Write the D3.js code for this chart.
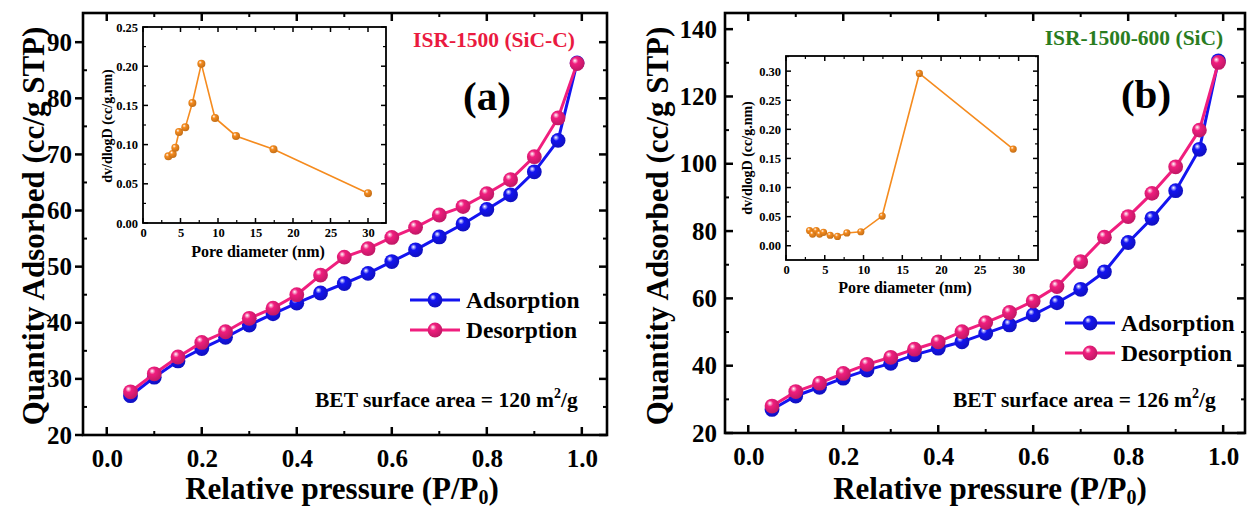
<!DOCTYPE html>
<html><head><meta charset="utf-8">
<script src="https://cdn.jsdelivr.net/npm/d3@7"></script>
<style>
body{margin:0;background:#fff;}
svg{display:block;}
svg text{font-family:"Liberation Serif","Times New Roman",Tinos,"DejaVu Serif",serif;font-weight:bold;}
</style></head>
<body>
<svg id="chart" width="1247" height="509"></svg>
<script>
// ---------- data ----------
const pressure = [0.05,0.10,0.15,0.20,0.25,0.30,0.35,0.40,0.45,0.50,0.55,0.60,0.65,0.70,0.75,0.80,0.85,0.90,0.95,0.99];
const adsorptionA = [27.0,30.3,33.2,35.4,37.4,39.6,41.6,43.5,45.3,47.0,48.8,50.9,53.0,55.3,57.6,60.2,62.8,66.9,72.5,86.3];
const desorptionA = [27.7,30.9,33.9,36.5,38.4,40.8,42.6,45.0,48.5,51.7,53.2,55.2,57.0,59.2,60.7,63.0,65.5,69.6,76.5,86.2];
const adsorptionB = [27.0,31.0,33.6,36.3,38.7,40.7,43.2,45.2,47.1,49.6,52.1,55.1,58.7,62.7,67.9,76.6,83.8,92.0,104.3,130.6];
const desorptionB = [28.0,32.3,34.8,37.7,40.4,42.5,44.9,47.1,50.1,52.8,55.8,59.2,63.5,70.9,78.2,84.3,91.2,99.1,110.0,130.1];

const poreDiamA = [3.38,3.96,4.31,4.80,5.64,6.58,7.78,9.60,12.4,17.4,30.0];
const dvdlogDA  = [0.085,0.088,0.096,0.116,0.122,0.153,0.203,0.134,0.111,0.094,0.038];
const poreDiamB = [3.04,3.43,3.90,4.33,4.84,5.70,6.64,7.85,9.65,12.4,17.2,29.3];
const dvdlogDB  = [0.026,0.020,0.026,0.020,0.023,0.018,0.016,0.022,0.024,0.051,0.296,0.166];

const xTicks = [0.0,0.2,0.4,0.6,0.8,1.0];
const yTicksA = [20,30,40,50,60,70,80,90];
const yTicksB = [20,40,60,80,100,120,140];
const insetXTicks = [0,5,10,15,20,25,30];
const insetYTicksA = [0.00,0.05,0.10,0.15,0.20,0.25];
const insetYTicksB = [0.00,0.05,0.10,0.15,0.20,0.25,0.30];
const seriesNames = ["Adsorption","Desorption"];

const BLUE = "#1414f0", PINK = "#f01e7e", ORANGE = "#f58b1e";
const FONT = '"Liberation Serif","Times New Roman",Tinos,"DejaVu Serif",serif';

const svg = d3.select("#chart");
const defs = svg.append("defs");
function grad(id, col){
  const g = defs.append("radialGradient").attr("id", id)
    .attr("cx","40%").attr("cy","38%").attr("r","60%").attr("fx","35%").attr("fy","30%");
  g.append("stop").attr("offset","0%").attr("stop-color","#ffffff");
  g.append("stop").attr("offset","35%").attr("stop-color",col);
  g.append("stop").attr("offset","100%").attr("stop-color",d3.color(col).darker(0.6));
}
grad("gBlue", BLUE); grad("gPink", PINK); grad("gOrange", ORANGE);

function ticksLayer(g, scale, vals, orient, len, from, w){
  vals.forEach(v=>{
    const p = scale(v);
    if(orient==='bottom') g.append("line").attr("x1",p).attr("x2",p).attr("y1",from).attr("y2",from-len);
    if(orient==='top') g.append("line").attr("x1",p).attr("x2",p).attr("y1",from).attr("y2",from+len);
    if(orient==='left') g.append("line").attr("y1",p).attr("y2",p).attr("x1",from).attr("x2",from+len);
    if(orient==='right') g.append("line").attr("y1",p).attr("y2",p).attr("x1",from).attr("x2",from-len);
  });
  g.attr("stroke","#000").attr("stroke-width",w);
}
function styleAxisText(sel, size){
  sel.attr("font-family",FONT);
  sel.selectAll("text").attr("font-size",size).attr("font-family",FONT).attr("font-weight","bold").attr("fill","#000");
}

function drawPanel(cfg){
  const {L,R,T,B,xDom,yDom,yTicks,yMinor,ads,des,leftOut} = cfg;
  const x = d3.scaleLinear().domain(xDom).range([L,R]);
  const y = d3.scaleLinear().domain(yDom).range([B,T]);
  const g = svg.append("g").attr("font-family",FONT).attr("font-weight","bold");
  const xMinor = d3.range(0,1.01,0.1).map(v=>+v.toFixed(2)).filter(v=>!xTicks.includes(v));
  ticksLayer(g.append("g"), x, xTicks, 'bottom', 8, B, 2.5);
  ticksLayer(g.append("g"), x, xMinor, 'bottom', 4, B, 2);
  ticksLayer(g.append("g"), x, xTicks, 'top', 8, T, 2.5);
  ticksLayer(g.append("g"), x, xMinor, 'top', 4, T, 2);
  ticksLayer(g.append("g"), y, yTicks, 'left', leftOut ? -8 : 8, L, 2.5);
  ticksLayer(g.append("g"), y, yMinor, 'left', 4, L, 2);
  ticksLayer(g.append("g"), y, yTicks, 'right', 8, R, 2.5);
  ticksLayer(g.append("g"), y, yMinor, 'right', 4, R, 2);
  const xa = g.append("g").attr("transform",`translate(0,${B})`)
    .call(d3.axisBottom(x).tickValues(xTicks).tickFormat(d3.format(".1f")).tickSize(0).tickPadding(14));
  xa.select(".domain").remove();
  styleAxisText(xa, 25);
  const ya = g.append("g").attr("transform",`translate(${L},0)`)
    .call(d3.axisLeft(y).tickValues(yTicks).tickFormat(d3.format("d")).tickSize(0).tickPadding(cfg.yPad));
  ya.select(".domain").remove();
  styleAxisText(ya, 25);
  g.append("rect").attr("x",L).attr("y",T).attr("width",R-L).attr("height",B-T)
    .attr("fill","none").attr("stroke","#000").attr("stroke-width",2.6);
  g.append("text").attr("transform",`translate(${cfg.yTitleX},226) rotate(-90)`)
    .attr("text-anchor","middle").attr("font-size",31).text("Quantity Adsorbed (cc/g STP)");
  const xt = g.append("text").attr("x",cfg.xTitleX).attr("y",499).attr("text-anchor","middle").attr("font-size",31);
  xt.append("tspan").text("Relative pressure (P/P");
  xt.append("tspan").attr("font-size",20).attr("dy",5).text("0");
  xt.append("tspan").attr("dy",-5).text(")");
  const line = d3.line().x((d,i)=>x(pressure[i])).y(d=>y(d));
  [[ads,BLUE,"gBlue"],[des,PINK,"gPink"]].forEach(([arr,col,gid])=>{
    g.append("path").datum(arr).attr("d",line).attr("fill","none").attr("stroke",col).attr("stroke-width",3);
    g.append("g").selectAll("circle").data(arr).join("circle")
      .attr("cx",(d,i)=>x(pressure[i])).attr("cy",d=>y(d)).attr("r",7.4)
      .attr("fill",`url(#${gid})`);
  });
  [[BLUE,"gBlue"],[PINK,"gPink"]].forEach(([col,gid],i)=>{
    const ly = cfg.legY + i*30;
    g.append("line").attr("x1",cfg.legX).attr("x2",cfg.legX+50).attr("y1",ly).attr("y2",ly).attr("stroke",col).attr("stroke-width",3);
    g.append("circle").attr("cx",cfg.legX+25).attr("cy",ly).attr("r",7.4).attr("fill",`url(#${gid})`);
    g.append("text").attr("x",cfg.legX+56).attr("y",ly+8).attr("font-size",23.5).text(seriesNames[i]);
  });
  g.append("text").attr("x",cfg.titleX).attr("y",cfg.titleY).attr("text-anchor","middle").attr("font-size",21.5)
    .attr("fill",cfg.titleColor).text(cfg.title);
  g.append("text").attr("x",cfg.tagX).attr("y",cfg.tagY).attr("text-anchor","middle").attr("font-size",41).text(cfg.tag);
  const bt = g.append("text").attr("x",cfg.betX).attr("y",407).attr("font-size",21.5);
  bt.append("tspan").text(cfg.bet + " m");
  bt.append("tspan").attr("font-size",14).attr("dy",-9).text("2");
  bt.append("tspan").attr("dy",9).text("/g");
  return g;
}

function drawInset(cfg){
  const {L,R,T,B,xDom,yDom,yTicks,px,py} = cfg;
  const x = d3.scaleLinear().domain(xDom).range([L,R]);
  const y = d3.scaleLinear().domain(yDom).range([B,T]);
  const g = svg.append("g").attr("font-family",FONT).attr("font-weight","bold");
  g.append("rect").attr("x",L).attr("y",T).attr("width",R-L).attr("height",B-T).attr("fill","#fff");
  const xMinor = d3.range(2.5,32.5,5);
  const yMinor = d3.range(0.025,yDom[1],0.05).filter(v=>v>yDom[0]);
  ticksLayer(g.append("g"), x, insetXTicks, 'bottom', 5, B, 1.5);
  ticksLayer(g.append("g"), x, xMinor, 'bottom', 3, B, 1.2);
  ticksLayer(g.append("g"), x, insetXTicks, 'top', 5, T, 1.5);
  ticksLayer(g.append("g"), x, xMinor, 'top', 3, T, 1.2);
  ticksLayer(g.append("g"), y, yTicks, 'left', 5, L, 1.5);
  ticksLayer(g.append("g"), y, yMinor, 'left', 3, L, 1.2);
  ticksLayer(g.append("g"), y, yTicks, 'right', 5, R, 1.5);
  ticksLayer(g.append("g"), y, yMinor, 'right', 3, R, 1.2);
  const xa = g.append("g").attr("transform",`translate(0,${B})`)
    .call(d3.axisBottom(x).tickValues(insetXTicks).tickFormat(d3.format("d")).tickSize(0).tickPadding(5));
  xa.select(".domain").remove();
  styleAxisText(xa, 12.5);
  const ya = g.append("g").attr("transform",`translate(${L},0)`)
    .call(d3.axisLeft(y).tickValues(yTicks).tickFormat(d3.format(".2f")).tickSize(0).tickPadding(5));
  ya.select(".domain").remove();
  styleAxisText(ya, 12.5);
  g.append("rect").attr("x",L).attr("y",T).attr("width",R-L).attr("height",B-T)
    .attr("fill","none").attr("stroke","#000").attr("stroke-width",1.8);
  g.append("text").attr("x",cfg.xTitleX).attr("y",cfg.xTitleY).attr("text-anchor","middle").attr("font-size",16).text("Pore diameter (nm)");
  g.append("text").attr("transform",`translate(${cfg.yTitleX},${cfg.yTitleC}) rotate(-90)`)
    .attr("text-anchor","middle").attr("font-size",14).text("dv/dlogD (cc/g.nm)");
  const line = d3.line().x((d,i)=>x(px[i])).y(d=>y(d));
  g.append("path").datum(py).attr("d",line).attr("fill","none").attr("stroke",ORANGE).attr("stroke-width",1.6);
  g.append("g").selectAll("circle").data(py).join("circle")
    .attr("cx",(d,i)=>x(px[i])).attr("cy",d=>y(d)).attr("r",cfg.r).attr("fill","url(#gOrange)");
}

drawPanel({L:83,R:607,T:13,B:435,xDom:[-0.05,1.053],yDom:[20,95.2],yTicks:yTicksA,
  yMinor:d3.range(25,95,10),ads:adsorptionA,des:desorptionA,leftOut:true,yPad:11,yTitleX:44,xTitleX:342,
  legX:410,legY:300,titleX:494,titleY:47,titleColor:"#ea1a3f",title:"ISR-1500 (SiC-C)",tag:"(a)",tagX:487,tagY:110,
  betX:315,bet:"BET surface area = 120"});
drawInset({L:143,R:386,T:27,B:223,xDom:[0,32.4],yDom:[0,0.25],yTicks:insetYTicksA,
  px:poreDiamA,py:dvdlogDA,r:4,xTitleX:258,xTitleY:257,yTitleX:112,yTitleC:126});

drawPanel({L:725,R:1245,T:13,B:433,xDom:[-0.049,1.046],yDom:[20,144.8],yTicks:yTicksB,
  yMinor:d3.range(30,145,20),ads:adsorptionB,des:desorptionB,leftOut:false,yPad:8,yTitleX:668,xTitleX:990,
  legX:1065,legY:323,titleX:1134,titleY:45,titleColor:"#2a7d1f",title:"ISR-1500-600 (SiC)",tag:"(b)",tagX:1146,tagY:108,
  betX:953,bet:"BET surface area = 126"});
drawInset({L:786,R:1038,T:56,B:260,xDom:[0,32.5],yDom:[-0.0245,0.326],yTicks:insetYTicksB,
  px:poreDiamB,py:dvdlogDB,r:3.6,xTitleX:905,xTitleY:293,yTitleX:752,yTitleC:158});
</script>
</body></html>
